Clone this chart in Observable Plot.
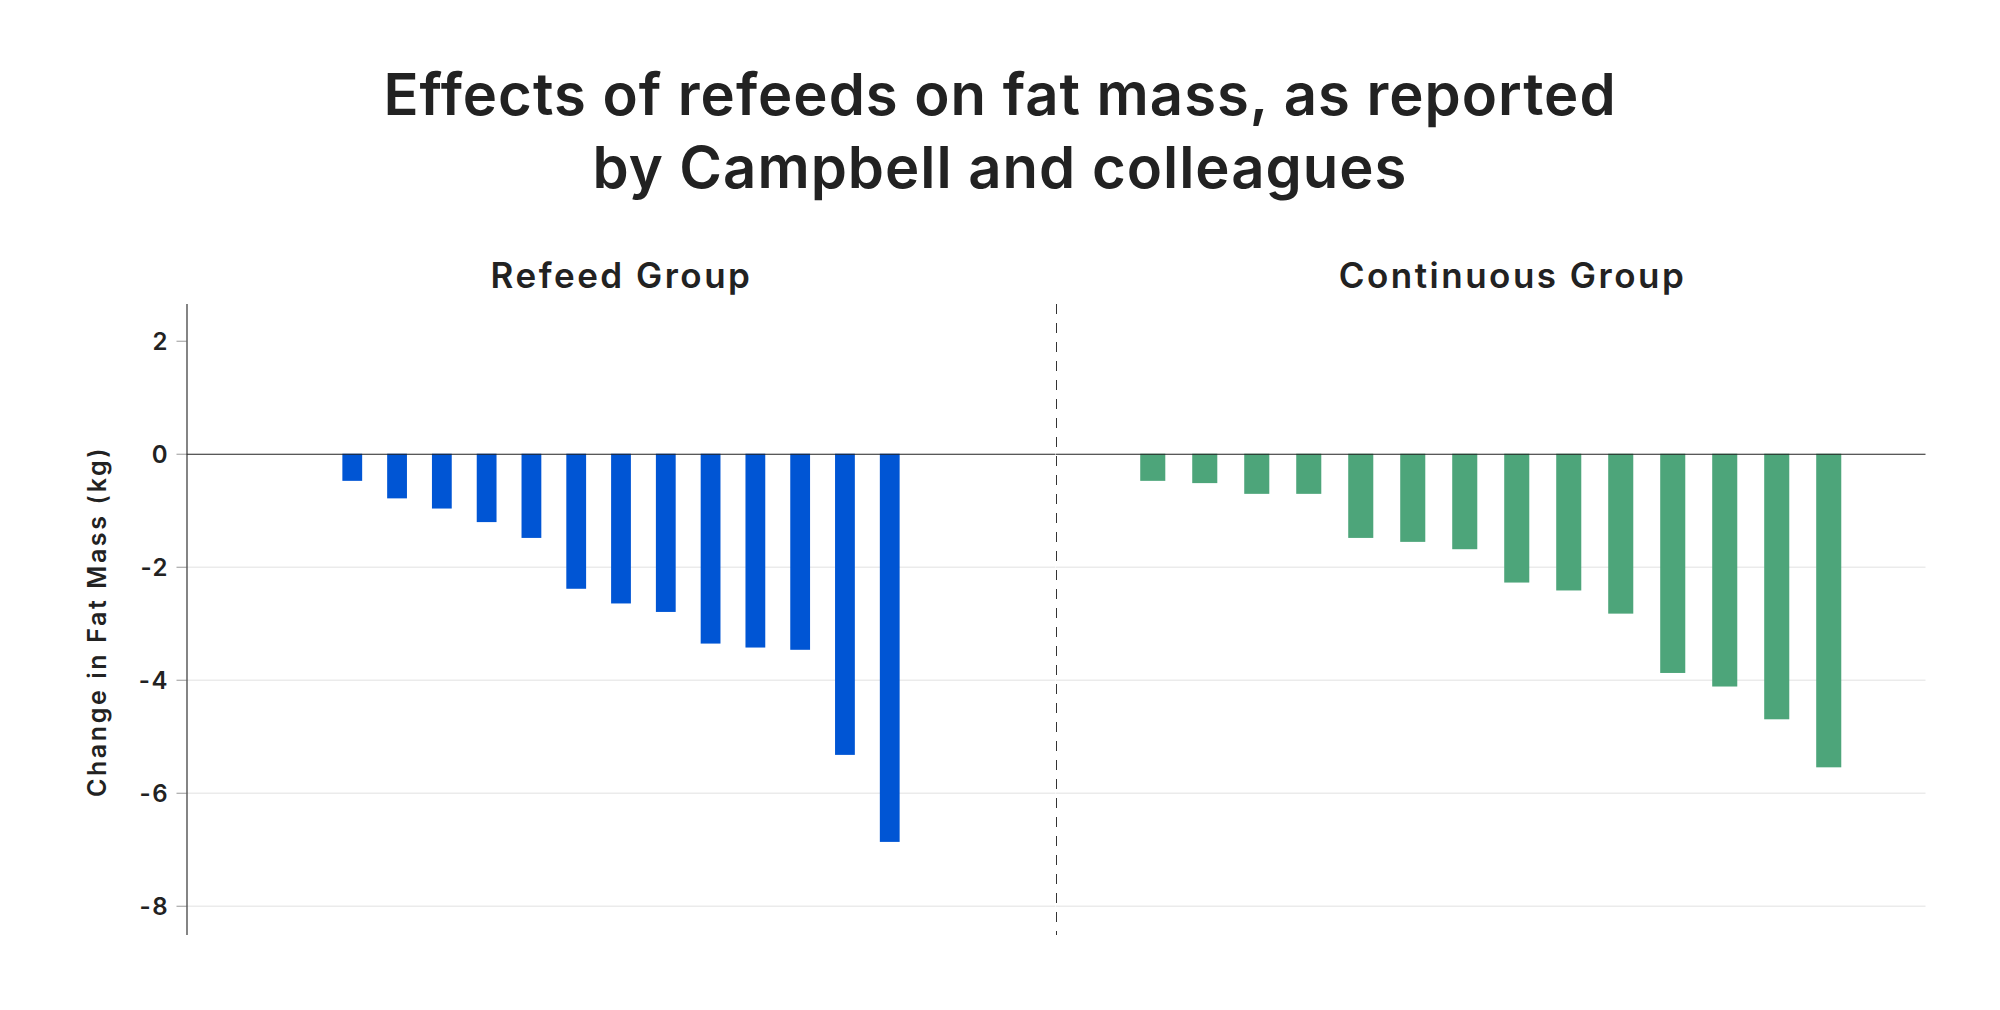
<!DOCTYPE html>
<html>
<head>
<meta charset="utf-8">
<script src="https://cdn.jsdelivr.net/npm/d3@7"></script>
<script src="https://cdn.jsdelivr.net/npm/@observablehq/plot@0.6"></script>
<style>
  html, body { margin: 0; padding: 0; background: #ffffff; }
  #root { position: relative; width: 2000px; height: 1010px; overflow: hidden; font-family: Inter, "Noto Sans", sans-serif; color: #222; }
  #title { position: absolute; left: 0; width: 2000px; top: 58px; text-align: center; font-size: 58px; font-weight: 600; line-height: 73px; color: #222; letter-spacing: 1px; }
  .panel-title { position: absolute; top: 258px; transform: translateX(-50%); font-size: 35px; font-weight: 600; line-height: 34px; white-space: nowrap; color: #222; letter-spacing: 2.5px; }
  .plot { position: absolute; top: 283.6px; }
  .plot svg { overflow: visible; }
  .plot svg g[aria-label="text"] text { letter-spacing: 1.5px; }
  .plot svg g[aria-label="text"] text[transform*="rotate"] { letter-spacing: 2.6px; }
</style>
</head>
<body>
<div id="root">
  <div id="title">Effects of refeeds on fat mass, as reported<br>by Campbell and colleagues</div>
  <div class="panel-title" style="left:621.5px">Refeed Group</div>
  <div class="panel-title" style="left:1512.5px">Continuous Group</div>
  <div id="left" class="plot" style="left:0px"></div>
  <div id="right" class="plot" style="left:1055.5px"></div>
</div>
<script>
// Data: change in fat mass (kg) per participant, sorted
const refeedChange = [-0.48, -0.79, -0.97, -1.21, -1.49, -2.39, -2.65, -2.80, -3.36, -3.43, -3.47, -5.33, -6.87];
const continuousChange = [-0.48, -0.52, -0.71, -0.71, -1.49, -1.56, -1.69, -2.28, -2.42, -2.83, -3.88, -4.12, -4.70, -5.55];
const yTicks = [2, 0, -2, -4, -6, -8];
const gridTicks = [-2, -4, -6, -8];
const yLabel = "Change in Fat Mass (kg)";
const refeedColor = "#0055d4";
const continuousColor = "#4da57a";

const refeed = refeedChange.map((v, i) => ({id: i + 1, value: v}));
const continuous = continuousChange.map((v, i) => ({id: i + 1, value: v}));

const yDomain = [-8.5, 2.65];
const H = 670, MT = 20, MB = 20;

const left = Plot.plot({
  width: 1055.5,
  height: H,
  marginLeft: 186.5,
  marginRight: 0,
  marginTop: MT,
  marginBottom: MB,
  style: {fontFamily: "Inter, 'Noto Sans', sans-serif", color: "#222", background: "transparent"},
  x: {type: "band", domain: refeed.map(d => d.id), paddingInner: 0.558, paddingOuter: 3.48, round: false, axis: null},
  y: {domain: yDomain, axis: null},
  marks: [
    Plot.ruleY(gridTicks, {stroke: "#ebebeb", strokeWidth: 1.5}),
    Plot.barY(refeed, {x: "id", y: "value", fill: refeedColor}),
    Plot.ruleY([0], {stroke: "#222", strokeWidth: 1.2}),
    Plot.axisY({ticks: yTicks, tickSize: 10, tickPadding: 9.5, text: null, stroke: "#999", label: null}),
    Plot.text(yTicks, {y: d => d, text: d => String(d), frameAnchor: "left", textAnchor: "end", lineAnchor: "middle", dx: -18, dy: 1, fontSize: 24, fontWeight: 600, fill: "#222"}),
    Plot.text([yLabel], {frameAnchor: "left", textAnchor: "middle", lineAnchor: "middle", rotate: -90, dx: -89, dy: 2, fontSize: 25, fontWeight: 600, fill: "#222", text: d => d}),
    Plot.frame({anchor: "left", stroke: "#333", strokeWidth: 1.2})
  ]
});
document.getElementById("left").appendChild(left);

const right = Plot.plot({
  width: 944.5,
  height: H,
  marginLeft: 0,
  marginRight: 75,
  marginTop: MT,
  marginBottom: MB,
  style: {fontFamily: "Inter, 'Noto Sans', sans-serif", color: "#222", background: "transparent"},
  x: {type: "band", domain: continuous.map(d => d.id), paddingInner: 0.518, paddingOuter: 1.62, round: false, axis: null},
  y: {domain: yDomain, axis: null},
  marks: [
    Plot.ruleY(gridTicks, {stroke: "#ebebeb", strokeWidth: 1.5}),
    Plot.barY(continuous, {x: "id", y: "value", fill: continuousColor}),
    Plot.ruleY([0], {stroke: "#222", strokeWidth: 1.2}),
    Plot.frame({anchor: "left", stroke: "#333", strokeWidth: 1, strokeDasharray: "9,10"})
  ]
});
document.getElementById("right").appendChild(right);
</script>
</body>
</html>
